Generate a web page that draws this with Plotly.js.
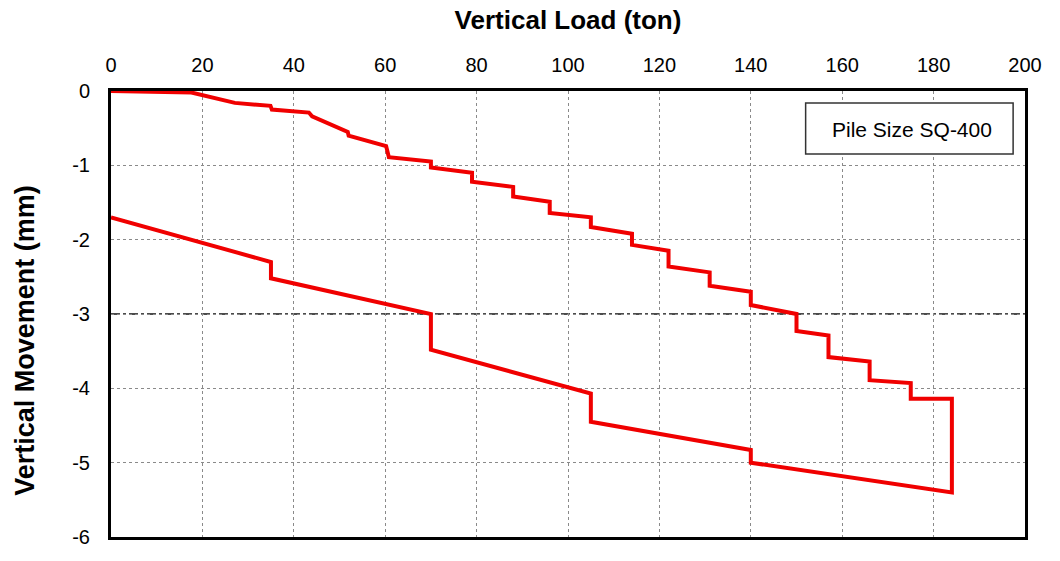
<!DOCTYPE html>
<html>
<head>
<meta charset="utf-8">
<script src="https://cdn.plot.ly/plotly-3.0.1.min.js"></script>
<style>html,body{margin:0;padding:0;background:#fff;}#chart{width:1060px;height:561px;}</style>
</head>
<body>
<div id="chart"></div>
<script>
// Loading branch (ton, mm)
const loadingLoad = [0, 17.6, 27.1, 34.9, 35.2, 43.3, 44, 51.8, 52, 60.2, 60.8, 70, 70, 79, 79, 88, 88, 96, 96, 105, 105, 114, 114, 122, 122, 131, 131, 140, 140, 150, 150, 157, 157, 166, 166, 175, 175, 184];
const loadingMove = [0, -0.02, -0.16, -0.2, -0.25, -0.29, -0.34, -0.55, -0.6, -0.74, -0.89, -0.95, -1.03, -1.1, -1.22, -1.29, -1.42, -1.49, -1.64, -1.7, -1.83, -1.92, -2.07, -2.15, -2.36, -2.44, -2.62, -2.7, -2.88, -3.0, -3.23, -3.29, -3.58, -3.64, -3.89, -3.93, -4.14, -4.14];
// Unloading branch (ton, mm)
const unloadingLoad = [184, 140, 140, 105, 105, 70, 70, 35, 35, 0];
const unloadingMove = [-5.40, -5.0, -4.83, -4.45, -4.07, -3.48, -3.0, -2.52, -2.30, -1.70];
const xTicks = [0, 20, 40, 60, 80, 100, 120, 140, 160, 180, 200];
const yTicks = [0, -1, -2, -3, -4, -5, -6];
const labelText = "Pile Size SQ-400";
const yTitleText = "Vertical Movement (mm)";

const trace = {
  x: loadingLoad.concat(unloadingLoad),
  y: loadingMove.concat(unloadingMove),
  type: "scatter",
  mode: "lines",
  line: {color: "#f00000", width: 4},
  hoverinfo: "skip",
  showlegend: false
};

const font = {family: "Liberation Sans, Arial, sans-serif", color: "#000"};

const layout = {
  width: 1060, height: 561,
  margin: {l: 111, r: 35, t: 91, b: 24},
  paper_bgcolor: "#fff", plot_bgcolor: "#fff",
  showlegend: false,
  font: font,
  xaxis: {
    side: "top", range: [0, 200], tickvals: xTicks, ticktext: xTicks.map(String),
    showgrid: true, gridcolor: "#8a8a8a", griddash: "dot", gridwidth: 1,
    zeroline: false, showline: true, mirror: true, linecolor: "#000", linewidth: 3,
    ticks: "", ticklabelstandoff: 8,
    tickfont: {family: font.family, size: 20, color: "#000"},
    title: {text: "<b>Vertical Load (ton)</b>", font: {family: font.family, size: 26, color: "#000"}, standoff: 17}
  },
  yaxis: {
    range: [-6, 0], tickvals: yTicks, ticktext: yTicks.map(String),
    showgrid: true, gridcolor: "#8a8a8a", griddash: "dot", gridwidth: 1,
    zeroline: false, showline: true, mirror: true, linecolor: "#000", linewidth: 3,
    ticks: "", ticklabelstandoff: 14,
    tickfont: {family: font.family, size: 20, color: "#000"}
  },
  shapes: [
    {type: "line", xref: "paper", x0: 0, x1: 1, yref: "y", y0: -3, y1: -3,
     line: {color: "#111", width: 1.3, dash: "dashdot"}, layer: "below"},
    {type: "rect", xref: "paper", yref: "paper", x0: 0.760, x1: 0.987, y0: 0.859, y1: 0.973,
     line: {color: "#333", width: 1.5}, fillcolor: "#fff", layer: "above"}
  ],
  annotations: [
    {text: labelText, xref: "paper", yref: "paper", x: 0.876, y: 0.913,
     xanchor: "center", yanchor: "middle", showarrow: false,
     font: {family: font.family, size: 21, color: "#000"}},
    {text: "<b>" + yTitleText + "</b>", xref: "paper", yref: "paper", x: -0.094, y: 0.44,
     xanchor: "center", yanchor: "middle", showarrow: false, textangle: -90,
     font: {family: font.family, size: 27, color: "#000"}}
  ]
};

Plotly.newPlot("chart", [trace], layout, {displayModeBar: false, staticPlot: true});
</script>
</body>
</html>
